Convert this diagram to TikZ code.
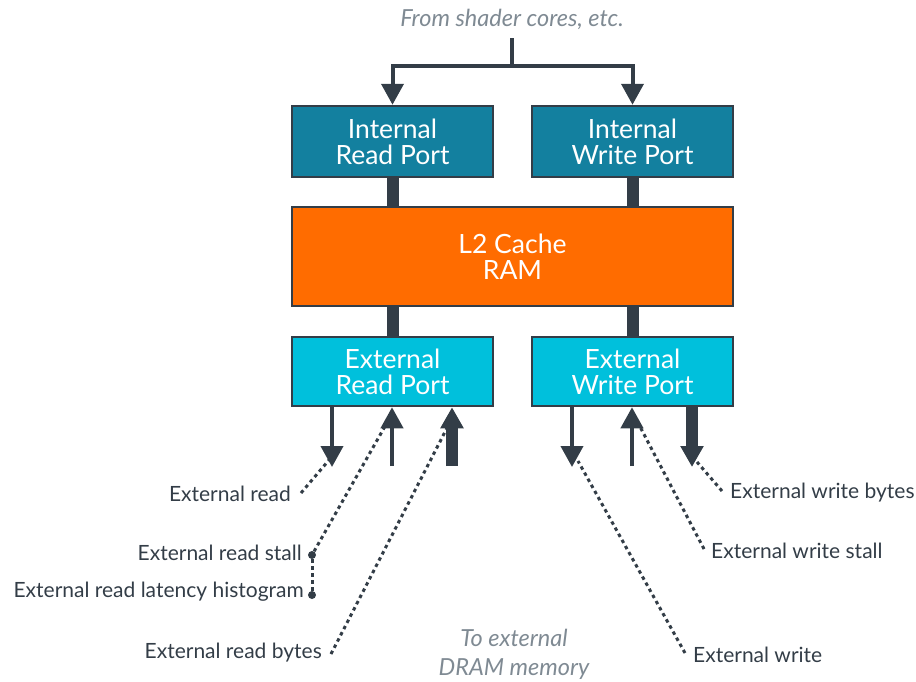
\documentclass[tikz,border=0pt]{standalone}
\usepackage{fontspec}
\setmainfont{Lato}
\usetikzlibrary{arrows.meta}
\definecolor{ink}{HTML}{333D47}
\definecolor{boxteal}{HTML}{13809F}
\definecolor{boxcyan}{HTML}{00C0DC}
\definecolor{boxorange}{HTML}{FF6C00}
\definecolor{note}{HTML}{7F8A93}
\begin{document}
\begin{tikzpicture}[x=1pt,y=-1pt,
  box/.style={draw=ink, line width=2.5pt, text=white, font=\fontsize{26.5}{26}\selectfont,
    align=center, minimum width=201pt, minimum height=71pt, inner sep=0pt},
  notetext/.style={text=note, font=\fontsize{23.5}{29}\selectfont\itshape, align=center, inner sep=0pt},
  lbl/.style={text=ink, font=\fontsize{21}{24}\selectfont, inner sep=0pt},
  thinarr/.style={draw=ink, line width=4pt, -{Triangle[width=22pt,length=21pt]}},
  thickarr/.style={draw=ink, line width=12pt, -{Triangle[width=22pt,length=21pt]}},
  bar/.style={draw=ink, line width=12pt},
  dotline/.style={draw=ink, line width=3pt, dash pattern=on 3.5pt off 3.5pt},
  pin/.style={circle, fill=ink, inner sep=0pt, minimum size=8pt}]
\useasboundingbox (0,0) rectangle (916,681);

\node[notetext] (src) at (512,19) {From shader cores, etc.};
\coordinate (stem) at (512,38);
\coordinate (split) at (512,66);

\node[box, fill=boxteal] (irp) at (392.5,141.5) {Internal\\Read Port};
\node[box, fill=boxteal] (iwp) at (632.5,141.5) {Internal\\Write Port};
\node[box, fill=boxorange, minimum width=441pt, minimum height=99pt] (l2) at (512.5,256.5) {L2 Cache\\RAM};
\node[box, fill=boxcyan, minimum height=69pt] (erp) at (392.5,371.5) {External\\Read Port};
\node[box, fill=boxcyan, minimum height=69pt] (ewp) at (632.5,371.5) {External\\Write Port};

\draw[draw=ink, line width=4pt] (stem) -- (split);
\draw[thinarr] (split) -| (irp.north);
\draw[thinarr] (split) -| (iwp.north);

\draw[bar] (irp.south) -- (l2.north -| irp.south);
\draw[bar] (iwp.south) -- (l2.north -| iwp.south);
\draw[bar] (l2.south -| erp.north) -- (erp.north);
\draw[bar] (l2.south -| ewp.north) -- (ewp.north);

\coordinate (erA) at (332,467);
\coordinate (erB) at (392,466);
\coordinate (erC) at (452,466);
\coordinate (ewA) at (572,467);
\coordinate (ewB) at (632,466);
\coordinate (ewC) at (692,467);
\draw[thinarr] (erA |- erp.south) -- (erA);
\draw[thinarr] (erB) -- (erB |- erp.south);
\draw[thickarr] (erC) -- (erC |- erp.south);
\draw[thinarr] (ewA |- ewp.south) -- (ewA);
\draw[thinarr] (ewB) -- (ewB |- ewp.south);
\draw[thickarr] (ewC |- ewp.south) -- (ewC);

\node[notetext] (dram) at (514,654) {To external\\DRAM memory};

% read-side labels
\node[lbl, anchor=east] (lr) at (291,494) {External read};
\node[lbl, anchor=east] (lrs) at (302,553) {External read stall};
\node[lbl, anchor=east] (lrh) at (304,592) {External read latency histogram};
\node[lbl, anchor=east] (lrb) at (322,653) {External read bytes};
\node[pin] (ps) at (312,555) {};
\node[pin] (ph) at (312,595) {};
\coordinate (lrT) at (329,460);
\coordinate (lrsT) at (388,421);
\coordinate (lrbT) at (447,428);
\coordinate (lrS) at (301,493);
\coordinate (lrbS) at (331,654);
\draw[dotline] (lrS) -- (lrT);
\draw[dotline] (ps) -- (lrsT);
\draw[dotline] (ps) -- (ph);
\draw[dotline] (lrbS) -- (lrbT);

% write-side labels
\node[lbl, anchor=west] (lwb) at (730,493) {External write bytes};
\node[lbl, anchor=west] (lws) at (711,551) {External write stall};
\node[lbl, anchor=west] (lw) at (693,655) {External write};
\coordinate (lwbS) at (722,491);
\coordinate (lwbT) at (697,462);
\coordinate (lwsS) at (704,549);
\coordinate (lwsT) at (637,421);
\coordinate (lwS) at (685,653);
\coordinate (lwT) at (578,461);
\draw[dotline] (lwbS) -- (lwbT);
\draw[dotline] (lwsS) -- (lwsT);
\draw[dotline] (lwS) -- (lwT);
\end{tikzpicture}
\end{document}
